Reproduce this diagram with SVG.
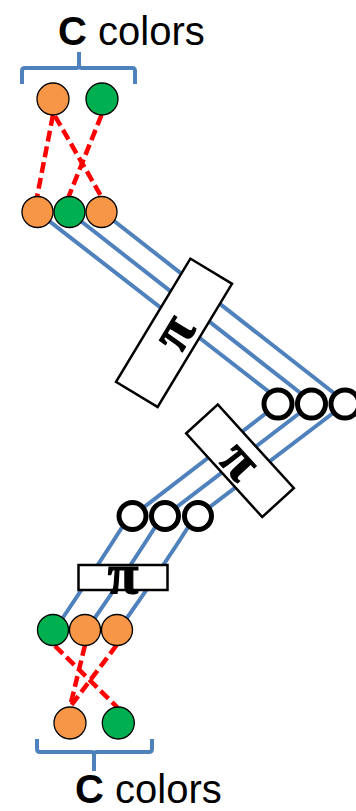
<svg xmlns="http://www.w3.org/2000/svg" width="356" height="811" viewBox="0 0 356 811">
<style>
.label{font-family:"Liberation Sans",Arial,sans-serif;font-size:40px;fill:#000}
.pi{font-family:"Liberation Serif","Times New Roman",serif;font-size:56px;font-weight:bold;fill:#000;stroke:#000;stroke-width:1.2;text-anchor:middle}
.brace{fill:none;stroke:#4F81BD;stroke-width:4;stroke-linejoin:round;stroke-linecap:butt}
.wire{fill:none;stroke:#4F81BD;stroke-width:4}
.dash{fill:none;stroke:#FF0000;stroke-width:4.5;stroke-dasharray:11 5}
.box{fill:#fff;stroke:#000;stroke-width:2.5}
.or{fill:#F79646;stroke:#000;stroke-width:1.3}
.gr{fill:#00B050;stroke:#000;stroke-width:1.3}
.ring{fill:#fff;stroke:#000;stroke-width:5}
</style>
<rect width="356" height="811" fill="#fff"/>

<g id="label-top">
<text class="label" x="58" y="45"><tspan font-weight="bold">C</tspan> colors</text>
<path class="brace" d="M22,84 V71 Q22,68 25,68 H76 Q79,68 79,65 V52 M79,65 Q79,68 82,68 H132 Q135,68 135,71 V84"/>
</g>

<g id="connectors">
<line class="dash" x1="53" y1="115" x2="37" y2="197"/>
<line class="dash" x1="55" y1="116" x2="101" y2="196"/>
<line class="dash" x1="101.5" y1="115" x2="68.5" y2="197"/>
<line class="wire" x1="38" y1="212.4" x2="278" y2="398.8"/>
<line class="wire" x1="69" y1="211.8" x2="311" y2="401.2"/>
<line class="wire" x1="101" y1="210.7" x2="345" y2="401.8"/>
<line class="wire" x1="278" y1="404" x2="132.5" y2="516"/>
<line class="wire" x1="311.5" y1="404" x2="165" y2="516"/>
<line class="wire" x1="345" y1="404" x2="198" y2="516"/>
<path class="wire" d="M128,518 Q95,570 58,625"/>
<path class="wire" d="M161,518 Q128,570 90,625"/>
<path class="wire" d="M194,518 Q161,570 122,625"/>
<line class="dash" x1="55" y1="646" x2="118" y2="708"/>
<line class="dash" x1="85" y1="645" x2="70" y2="707"/>
<line class="dash" x1="116.7" y1="645" x2="70" y2="707"/>
</g>

<g id="colors-top">
<circle class="or" cx="53" cy="99" r="16"/>
<circle class="gr" cx="102" cy="99" r="16"/>
</g>

<g id="row-top">
<circle class="or" cx="37.5" cy="212" r="15.5"/>
<circle class="gr" cx="69.5" cy="212" r="15.5"/>
<circle class="or" cx="101.5" cy="212" r="15.5"/>
</g>

<g id="pi-1" transform="translate(174,332.8) rotate(-58.9)">
<rect class="box" x="-72" y="-24.3" width="144" height="48.6"/>
<text class="pi" x="0" y="17">π</text>
</g>

<g id="ring-right">
<circle class="ring" cx="278" cy="404" r="14"/>
<circle class="ring" cx="311.5" cy="404" r="14"/>
<circle class="ring" cx="345" cy="404" r="14"/>
</g>

<g id="pi-2" transform="translate(240,460.8) rotate(47.7)">
<rect class="box" x="-56.5" y="-21.4" width="113" height="42.8"/>
<text class="pi" x="0" y="17">π</text>
</g>

<g id="ring-mid">
<circle class="ring" cx="132.5" cy="516" r="13.5"/>
<circle class="ring" cx="165" cy="516" r="13.5"/>
<circle class="ring" cx="198" cy="516" r="13.5"/>
</g>

<g id="pi-3">
<rect class="box" x="78.5" y="565" width="89" height="25"/>
<text class="pi" x="123" y="593">π</text>
</g>

<g id="row-bottom">
<circle class="gr" cx="53" cy="630" r="15.5"/>
<circle class="or" cx="85" cy="630" r="15.5"/>
<circle class="or" cx="117" cy="630" r="15.5"/>
</g>

<g id="colors-bottom">
<circle class="or" cx="70" cy="723" r="16"/>
<circle class="gr" cx="118.3" cy="723" r="16"/>
</g>

<g id="label-bottom">
<path class="brace" d="M37,739 V749 Q37,752 40,752 H91 Q94,752 94,755 V771 M94,755 Q94,752 97,752 H149 Q152,752 152,749 V739"/>
<text class="label" x="75" y="803"><tspan font-weight="bold">C</tspan> colors</text>
</g>
</svg>
